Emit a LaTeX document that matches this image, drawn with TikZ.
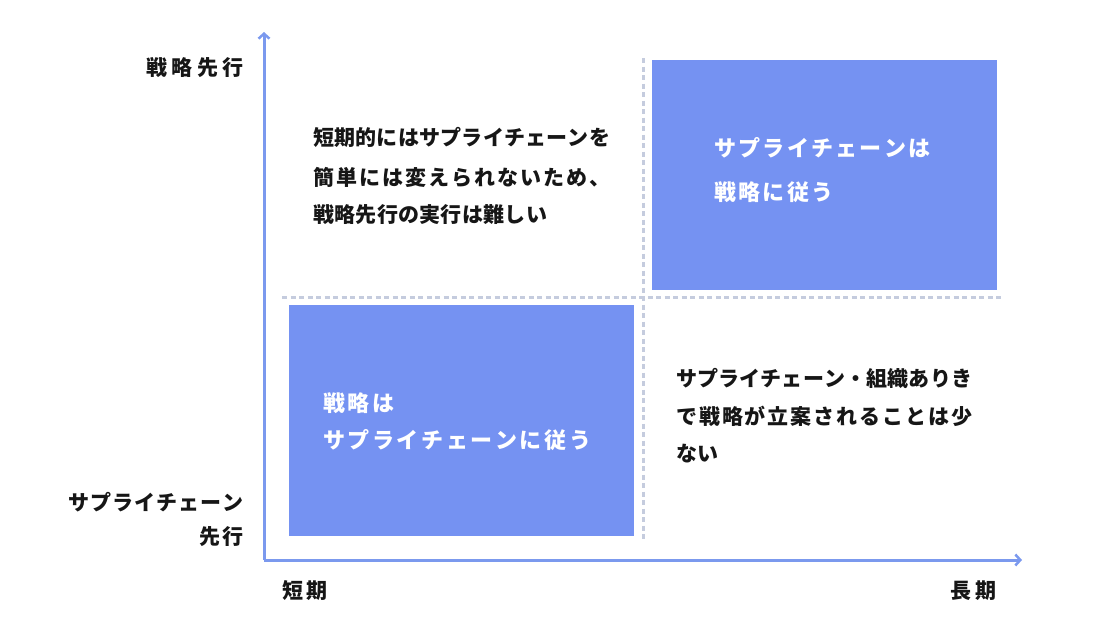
\documentclass[tikz,border=0pt]{standalone}
\usepackage{fontspec}
\setmainfont{Noto Sans CJK JP}
\usetikzlibrary{arrows.meta}
\definecolor{boxblue}{HTML}{7592F2}
\definecolor{axisblue}{HTML}{7B99EE}
\definecolor{dashgray}{HTML}{C5CCDE}
\definecolor{ink}{HTML}{161616}
\makeatletter
\def\spc@end{spc@end@marker}
\newcommand\spreadtxt[2]{\def\spc@g{\hskip #1\relax}\spc@a#2\spc@end}
\def\spc@a#1{#1\spc@b}
\def\spc@b#1{\ifx#1\spc@end\else\spc@g#1\expandafter\spc@b\fi}
\makeatother
\newcommand\jline[2]{\makebox[#1][s]{\spreadtxt{0pt plus 1fil}{#2}}}
\tikzset{
  bodytxt/.style={inner sep=0pt, text=ink, font=\fontsize{21}{24}\selectfont\bfseries},
  boxtxt/.style={inner sep=0pt, text=white, font=\fontsize{22}{26}\selectfont\bfseries},
  lbl/.style={inner sep=0pt, text=ink, font=\fontsize{21}{24}\selectfont\bfseries},
  quad/.style={fill=boxblue, draw=none},
  axis/.style={draw=axisblue, line width=3pt, -{Straight Barb[length=5pt,width=11pt,line width=2.5pt]}},
  guide/.style={draw=dashgray, line width=3pt, dash pattern=on 5pt off 3.5pt}
}
\begin{document}
\begin{tikzpicture}[x=1pt,y=-1pt]
\useasboundingbox (0,0) rectangle (1120,630);
% quadrant boxes
\path[quad] (652,60) rectangle (997,290);
\path[quad] (289,305) rectangle (634,536);
% guide lines
\coordinate (gl) at (282,297);
\coordinate (gr) at (1003,297);
\coordinate (gt) at (643,58);
\coordinate (gb) at (643,540);
\draw[guide] (gl) -- (gr);
\draw[guide] (gt) -- (gb);
% axes
\coordinate (O) at (264,560);
\coordinate (Ytop) at (264,32);
\coordinate (Xend) at (1022,560);
\draw[axis] (O) -- (Ytop);
\draw[axis] (O) -- (Xend);
% axis labels
\node[lbl, anchor=east] (ytop) at (244,68) {\spreadtxt{4.5pt}{戦略先行}};
\node[lbl, anchor=east] (ybot1) at (244,502) {\spreadtxt{1pt}{サプライチェーン}};
\node[lbl, anchor=east] (ybot2) at (244,537) {\spreadtxt{2pt}{先行}};
\node[lbl, anchor=west] (xl) at (282,591) {\spreadtxt{3pt}{短期}};
\node[lbl, anchor=east] (xr) at (997,591) {\spreadtxt{4pt}{長期}};
% top-left text
\node[bodytxt, anchor=west] (tl1) at (313,137) {\jline{297pt}{短期的にはサプライチェーンを}};
\node[bodytxt, anchor=west] (tl2) at (313,177) {\jline{297pt}{簡単には変えられないため、}};
\node[bodytxt, anchor=west] (tl3) at (313,215) {\spreadtxt{0.3pt}{戦略先行の実行は難しい}};
% bottom-right text
\node[bodytxt, anchor=west] (br1) at (676,378) {\jline{296pt}{サプライチェーン・組織ありき}};
\node[bodytxt, anchor=west] (br2) at (676,416) {\jline{296pt}{で戦略が立案されることは少}};
\node[bodytxt, anchor=west] (br3) at (676,454) {\spreadtxt{0.3pt}{ない}};
% box texts
\node[boxtxt, anchor=west] (tr1) at (714,148) {\spreadtxt{2.3pt}{サプライチェーンは}};
\node[boxtxt, anchor=west] (tr2) at (714,192) {\spreadtxt{2.3pt}{戦略に従う}};
\node[boxtxt, anchor=west] (bl1) at (323,403) {\spreadtxt{2.6pt}{戦略は}};
\node[boxtxt, anchor=west] (bl2) at (323,440) {\spreadtxt{2.6pt}{サプライチェーンに従う}};
\end{tikzpicture}
\end{document}
